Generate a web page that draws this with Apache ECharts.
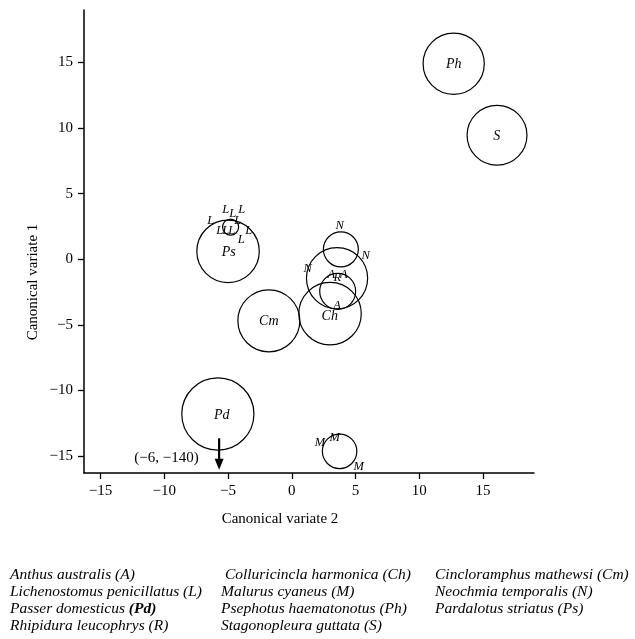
<!DOCTYPE html>
<html><head><meta charset="utf-8">
<script src="https://cdn.jsdelivr.net/npm/echarts@6/dist/echarts.min.js"></script>
<style>html,body{margin:0;padding:0;background:#fff}#c{width:635px;height:639px}</style>
</head><body><div id="c"></div>
<script>
// Group circles (centre x = canonical variate 2, centre y = canonical variate 1, radius in data units)
const circleNames = ['Ph', 'S', 'Ps', 'L', 'Cm', 'Ch', 'N', 'A', 'R', 'Pd', 'M'];
const circleX = [12.7, 16.1, -5.0, -4.8, -1.8, 3.0, 3.85, 3.55, 3.6, -5.8, 3.75];
const circleY = [14.9, 9.45, 0.6, 2.45, -4.7, -4.15, 0.75, -1.45, -2.45, -11.8, -14.65];
const circleR = [2.4, 2.35, 2.45, 0.63, 2.43, 2.45, 1.37, 2.4, 1.41, 2.83, 1.35];

// Group labels written inside circles
const groupLabels = ['Ph', 'S', 'Ps', 'Cm', 'Ch', 'Pd'];
const groupLabelX = [12.7, 16.08, -4.94, -1.8, 2.98, -5.49];
const groupLabelY = [14.87, 9.38, 0.53, -4.73, -4.35, -11.9];

// Individual birds (label at position)
const pointLabels = ['L','L','L','L','L','L','L','L','L','L','N','N','N','A','R','A','A','M','M','M'];
const pointX = [-6.35,-5.18,-4.63,-3.92,-4.24,-5.65,-5.18,-4.71,-3.37,-3.96, 3.76,5.8,1.25, 3.11,3.58,4.08,3.55, 2.2,3.37,5.25];
const pointY = [2.97,3.74,3.43,3.81,2.97,2.21,2.21,2.21,2.21,1.45, 2.59,0.23,-0.69, -1.22,-1.43,-1.22,-3.51, -13.96,-13.58,-15.79];

// Off-scale outlier arrow
const arrowX = [-5.7, -5.7];
const arrowY = [-13.65, -16.05];
const arrowText = ['(−6, −140)'];
const arrowTextX = [-7.3];
const arrowTextY = [-15.15];

const tickValues = [-15, -10, -5, 0, 5, 10, 15];
const axisMin = -16.3, axisMax = 19;

const legendCols = [
  ['Anthus australis (A)', 'Lichenostomus penicillatus (L)', 'Passer domesticus {b|(Pd)}', 'Rhipidura leucophrys (R)'],
  [' Colluricincla harmonica (Ch)', 'Malurus cyaneus (M)', 'Psephotus haematonotus (Ph)', 'Stagonopleura guttata (S)'],
  ['Cincloramphus mathewsi (Cm)', 'Neochmia temporalis (N)', 'Pardalotus striatus (Ps)']
];

const SERIF = '"Liberation Serif", "Times New Roman", serif';
const fmt = v => v < 0 ? '\u2212' + Math.abs(v) : String(v);

function axisCommon(name) {
  return {
    type: 'value', min: axisMin, max: axisMax, name: name,
    nameLocation: 'middle',
    nameTextStyle: {fontFamily: SERIF, fontSize: 15, color: '#000'},
    axisLine: {show: true, onZero: false, lineStyle: {color: '#000', width: 1.5}},
    axisTick: {show: true, length: 6, customValues: tickValues, lineStyle: {color: '#000', width: 1.3}},
    axisLabel: {customValues: tickValues, formatter: fmt, fontFamily: SERIF, fontSize: 15, color: '#000', margin: 11},
    splitLine: {show: false}
  };
}

const chart = echarts.init(document.getElementById('c'));
const xAxis = axisCommon('Canonical variate 2');
xAxis.nameGap = 39;
xAxis.nameTextStyle.padding = [0, 58, 0, 0];
const yAxis = axisCommon('Canonical variate 1');
yAxis.nameGap = 44;
yAxis.nameRotate = 90;
yAxis.nameTextStyle.padding = [0, 0, 0, 0];

function textSeries(labels, xs, ys, fontSize, align) {
  return {
    type: 'custom', clip: false, z: 5,
    data: labels.map((t, i) => [xs[i], ys[i], t]),
    renderItem: (params, api) => {
      const p = api.coord([api.value(0), api.value(1)]);
      const t = labels[params.dataIndex];
      return {type: 'text', x: p[0], y: p[1], style: {
        text: t, fill: '#000', fontSize: fontSize, fontFamily: SERIF,
        fontStyle: align ? 'normal' : 'italic',
        align: align || 'center', verticalAlign: 'middle'}};
    }
  };
}

const graphics = [];
const colX = [10, 221, 435];
const rowY = [575, 592, 609, 626];
legendCols.forEach((col, ci) => col.forEach((txt, ri) => {
  graphics.push({type: 'text', x: colX[ci], y: rowY[ri], style: {
    text: txt, fill: '#000', font: 'italic 15.5px ' + SERIF, verticalAlign: 'middle',
    rich: {b: {fontWeight: 'bold', fontStyle: 'italic', fontSize: 15.5, fontFamily: SERIF, fill: '#000'}}
  }});
}));
// y-axis title placed off-centre as in the reference
graphics.push({type: 'text', x: 33, y: 282, rotation: Math.PI / 2, style: {
  text: 'Canonical variate 1', fill: '#000', font: '15px ' + SERIF, align: 'center', verticalAlign: 'middle'}});
yAxis.name = '';

chart.setOption({
  animation: false,
  grid: {left: 84, right: 101, top: 10, bottom: 166},
  xAxis: xAxis, yAxis: yAxis,
  graphic: graphics,
  series: [
    {
      type: 'custom', clip: false,
      data: circleNames.map((n, i) => [circleX[i], circleY[i], circleR[i], n]),
      renderItem: (params, api) => {
        const c = api.coord([api.value(0), api.value(1)]);
        const r = api.size([api.value(2), 0])[0];
        return {type: 'circle', shape: {cx: c[0], cy: c[1], r: r},
          style: {fill: 'none', stroke: '#000', lineWidth: 1.2}};
      }
    },
    textSeries(groupLabels, groupLabelX, groupLabelY, 14),
    textSeries(pointLabels, pointX, pointY, 12.5),
    textSeries(arrowText, arrowTextX, arrowTextY, 15, 'right'),
    {
      type: 'custom', clip: false,
      data: [[arrowX[0], arrowY[0], arrowX[1], arrowY[1]]],
      renderItem: (params, api) => {
        const a = api.coord([api.value(0), api.value(1)]);
        const b = api.coord([api.value(2), api.value(3)]);
        const head = 11;
        return {type: 'group', children: [
          {type: 'line', shape: {x1: a[0], y1: a[1], x2: b[0], y2: b[1] - head + 1},
            style: {stroke: '#000', lineWidth: 2.2}},
          {type: 'polygon', shape: {points: [[b[0] - 4.5, b[1] - head], [b[0] + 4.5, b[1] - head], [b[0], b[1]]]},
            style: {fill: '#000'}}
        ]};
      }
    }
  ]
});
</script></body></html>
